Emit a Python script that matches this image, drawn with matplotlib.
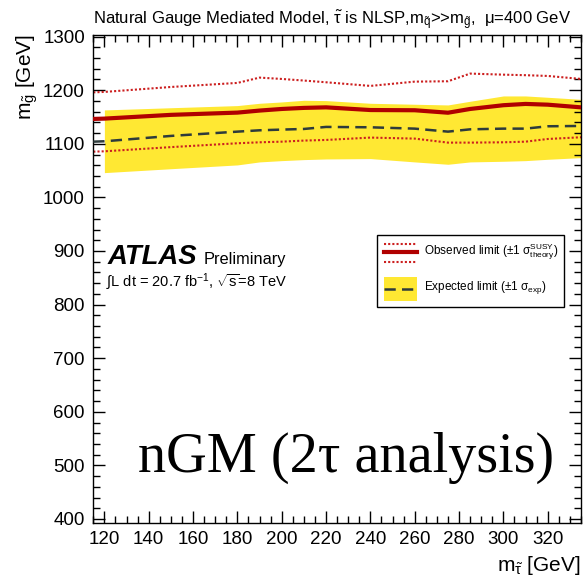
import matplotlib
matplotlib.use("Agg")
import matplotlib.pyplot as plt
from matplotlib.ticker import MultipleLocator
from matplotlib.lines import Line2D
from matplotlib.patches import Rectangle

plt.rcParams['font.family'] = ['Liberation Sans', 'DejaVu Sans']
plt.rcParams['mathtext.fontset'] = 'custom'
plt.rcParams['mathtext.rm'] = 'Liberation Sans'
plt.rcParams['mathtext.it'] = 'Liberation Sans:italic'
plt.rcParams['mathtext.bf'] = 'Liberation Sans:bold'

################
## DATA
################

# stau mass [GeV]; lines start at the axis edge, band at 120
stau_mass = [115, 120, 150, 180, 190, 200, 210, 220, 240, 260, 275, 285, 300, 310, 320, 335]

obs_limit = [1146.4, 1147.0, 1154.0, 1158.2, 1162.0, 1165.0, 1167.0, 1168.0,
             1163.0, 1162.6, 1158.0, 1165.0, 1172.0, 1174.4, 1173.0, 1168.0]
obs_theory_up = [1196.0, 1196.8, 1206.0, 1213.6, 1223.5, 1221.0, 1218.0, 1214.8,
                 1208.0, 1216.0, 1216.7, 1231.0, 1229.0, 1228.0, 1226.6, 1221.0]
obs_theory_down = [1085.4, 1086.0, 1093.8, 1101.0, 1102.8, 1104.0, 1106.0, 1107.2,
                   1111.6, 1109.7, 1102.2, 1102.2, 1102.8, 1104.0, 1109.0, 1112.2]
exp_limit = [1104.0, 1104.7, 1114.7, 1122.7, 1125.2, 1126.5, 1127.7, 1131.5,
             1130.8, 1128.3, 1122.7, 1127.0, 1128.3, 1128.3, 1132.7, 1133.3]

band_mass = stau_mass[1:]
exp_band_up = [1163.2, 1167.3, 1171.3, 1175.6, 1178.1, 1181.2, 1180.6,
               1175.6, 1173.8, 1172.5, 1179.4, 1189.3, 1189.3, 1186.8, 1183.0]
exp_band_down = [1046.2, 1053.5, 1060.6, 1066.2, 1068.6, 1070.5, 1071.7,
                 1072.4, 1066.2, 1061.8, 1066.2, 1067.4, 1068.6, 1071.1, 1074.2]

RED_DARK = '#b00000'
RED_DOT = '#cc1f1f'
YELLOW = '#ffe833'
DASH_COL = '#2e3b3b'

W, H = 586, 578


def fx(px):
    return px / W


def fy(py):
    return 1 - py / H


fig = plt.figure(figsize=(W / 100, H / 100), dpi=100)
ax = fig.add_axes([fx(93.3), fy(523), fx(581) - fx(93.3), fy(35) - fy(523)])

ax.fill_between(band_mass, exp_band_down, exp_band_up, color=YELLOW, lw=0, zorder=1)
ax.plot(stau_mass, obs_theory_up, color=RED_DOT, lw=1.5, ls=(0, (1, 1)), zorder=2)
ax.plot(stau_mass, obs_theory_down, color=RED_DOT, lw=1.5, ls=(0, (1, 1)), zorder=2)
ax.plot(stau_mass, exp_limit, color=DASH_COL, lw=1.8, ls=(0, (4.5, 2.5)), zorder=3)
ax.plot(stau_mass, obs_limit, color=RED_DARK, lw=3.0, zorder=4)

ax.set_xlim(115, 335)
ax.set_ylim(392.5, 1303)
ax.xaxis.set_major_locator(MultipleLocator(20))
ax.xaxis.set_minor_locator(MultipleLocator(5))
ax.yaxis.set_major_locator(MultipleLocator(100))
ax.yaxis.set_minor_locator(MultipleLocator(20))
ax.tick_params(which='both', direction='in', top=True, right=True, width=1.0)
ax.tick_params(which='major', length=8.6, labelsize=13.5, pad=6)
ax.tick_params(which='minor', length=4.7)
for s in ax.spines.values():
    s.set_linewidth(1.0)

# axis titles, ROOT style at the axis ends
fig.text(fx(581), fy(571), r"m$_{\tilde{\mathrm{\tau}}}$ [GeV]", ha='right', va='baseline', fontsize=15)
fig.text(fx(27), fy(34), r"m$_{\tilde{\rm g}}$ [GeV]", ha='center', va='top',
         rotation=90, fontsize=15)

# title
fig.text(fx(93), fy(24),
         r"Natural Gauge Mediated Model, $\tilde{\mathrm{\tau}}$ is NLSP,m$_{\tilde{\rm q}}$>>m$_{\tilde{\rm g}}$,  μ=400 GeV",
         ha='left', va='baseline', fontsize=12)

# ATLAS label
fig.text(fx(108), fy(264), "ATLAS", fontsize=19.8, fontweight='bold', style='italic',
         ha='left', va='baseline')
fig.text(fx(204), fy(264), "Preliminary", fontsize=11.8, ha='left', va='baseline')
fig.text(fx(106), fy(286), r"$\int$L dt = 20.7 fb$^{-1}$, $\sqrt{\rm s}$=8 TeV",
         fontsize=10.5, ha='left', va='baseline')

# legend drawn by hand
fig.add_artist(Rectangle((fx(377.3), fy(306.7)), fx(564) - fx(377.3), fy(235) - fy(306.7),
                         transform=fig.transFigure, facecolor='white', edgecolor='black',
                         lw=1.0, zorder=5))
for yy, col, lw, ls in [(244, RED_DOT, 1.5, (0, (1, 1))), (261.7, RED_DOT, 1.5, (0, (1, 1))),
                        (251.7, RED_DARK, 3.0, '-')]:
    fig.add_artist(Line2D([fx(384), fx(416.7)], [fy(yy), fy(yy)], color=col, lw=lw, ls=ls,
                          transform=fig.transFigure, zorder=6))
fig.add_artist(Rectangle((fx(384), fy(301)), fx(417) - fx(384), fy(276.7) - fy(301),
                         transform=fig.transFigure, facecolor=YELLOW, lw=0, zorder=6))
fig.add_artist(Line2D([fx(384), fx(417)], [fy(289), fy(289)], color=DASH_COL, lw=1.8,
                      ls=(0, (4.5, 2.5)), transform=fig.transFigure, zorder=7))
fig.text(fx(424.3), fy(251.7), r"Observed limit ($\pm$1 $\mathrm{\sigma}^{\rm SUSY}_{\rm theory}$)",
         fontsize=8.5, ha='left', va='center', zorder=8)
fig.text(fx(424.3), fy(288), r"Expected limit ($\pm$1 $\mathrm{\sigma}_{\rm exp}$)",
         fontsize=8.5, ha='left', va='center', zorder=8)

# big overlay label
fig.text(fx(346.5), fy(472), "nGM (2τ analysis)", family='Liberation Serif', fontsize=40.5,
         ha='center', va='baseline')

fig.savefig("out.png", dpi=100)
